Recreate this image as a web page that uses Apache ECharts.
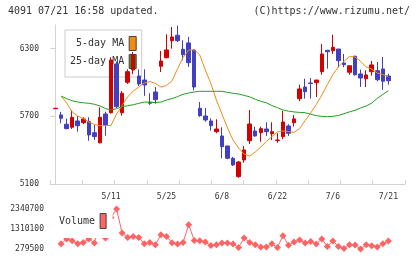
<!DOCTYPE html>
<html>
<head>
<meta charset="utf-8" />
<title>4091</title>
<script src="https://cdn.jsdelivr.net/npm/echarts@6/dist/echarts.min.js"></script>
<style>
  html, body { margin: 0; padding: 0; background: #fff; }
  #chart { width: 420px; height: 259px; }
</style>
</head>
<body>
<div id="chart"></div>
<script type="text/javascript">
    // trading days, one per candle
    var dates = ['4/21','4/22','4/23','4/24','4/27','4/28','4/30','5/1','5/7','5/8',
        '5/11','5/12','5/13','5/14','5/15','5/18','5/19','5/20','5/21','5/22',
        '5/25','5/26','5/27','5/28','5/29','6/1','6/2','6/3','6/4','6/5',
        '6/8','6/9','6/10','6/11','6/12','6/15','6/16','6/17','6/18','6/19',
        '6/22','6/23','6/24','6/25','6/26','6/29','6/30','7/1','7/2','7/3',
        '7/6','7/7','7/8','7/9','7/10','7/13','7/14','7/15','7/16','7/17',
        '7/21'];
    var opens = [5768,5712,5630,5603,5659,5644,5653,5555,5466,5721,
        5732,6164,5732,6002,6111,6058,6022,5825,5916,6144,
        6220,6371,6419,6295,6351,6288,5771,5703,5659,5564,
        5526,5437,5328,5165,5313,5484,5570,5555,5588,5546,
        5486,5520,5615,5644,5857,5960,5996,5999,6096,6286,
        6282,6297,6173,6091,6233,6076,6034,6096,6105,6120,
        6058];
    var closes = [5772,5683,5591,5692,5617,5677,5535,5520,5692,5623,
        6200,5786,5905,6096,6244,5987,5978,5816,5848,6191,
        6289,6404,6371,6247,6176,5960,5706,5668,5617,5588,
        5431,5328,5269,5295,5402,5632,5526,5591,5564,5564,
        5490,5650,5550,5677,5943,5919,5991,6022,6253,6273,
        6312,6194,6158,6149,6069,6040,6067,6156,6025,6011,
        6016];
    var lows = [5768,5638,5585,5588,5564,5632,5484,5490,5460,5528,
        5725,5774,5706,5987,6073,5969,5881,5801,5812,6093,
        6215,6300,6359,6197,6138,5931,5695,5653,5573,5550,
        5328,5320,5260,5156,5289,5455,5520,5475,5526,5490,
        5466,5497,5526,5608,5834,5857,5857,5872,6069,6123,
        6253,6135,6135,6069,6061,5960,5960,6061,6011,5936,
        5981];
    var highs = [5772,5739,5680,5756,5703,5692,5692,5623,5780,5741,
        6224,6185,5925,6117,6271,6116,6117,5905,5960,6280,
        6428,6492,6505,6375,6404,6288,5827,5774,5683,5674,
        5603,5440,5340,5304,5437,5756,5608,5608,5647,5647,
        5550,5748,5630,5712,5981,6034,6040,6022,6342,6286,
        6424,6297,6253,6149,6238,6114,6108,6191,6182,6226,
        6078];
    var ma5 = [null,5880,5818,5739,5703,5681,5650,5628,5617,5617,
        5620,5721,5796,5872,5925,5960,5996,6009,5991,5960,
        5974,6015,6123,6222,6288,6290,6244,6111,5991,5845,
        5721,5597,5490,5419,5366,5348,5384,5428,5477,5521,
        5561,5570,5565,5558,5592,5663,5730,5805,5889,5982,
        6071,6139,6188,6231,6226,6188,6138,6120,6084,6071,
        6053];
    var ma25 = [null,5879,5857,5838,5827,5820,5816,5807,5792,5769,
        5756,5768,5786,5794,5803,5815,5827,5825,5822,5827,
        5845,5858,5875,5896,5907,5916,5922,5922,5922,5922,
        5922,5913,5904,5898,5886,5873,5851,5834,5820,5796,
        5777,5756,5746,5739,5735,5732,5719,5706,5700,5697,
        5700,5708,5723,5740,5754,5774,5792,5817,5860,5894,
        5927];
    var volumes = [null,552000,795000,707000,552000,620000,795000,589000,1750000,846000,
        1900000,2340700,1104000,877000,929000,877000,552000,620000,501000,1016000,
        929000,604000,537000,620000,1532000,723000,707000,640000,465000,501000,
        589000,589000,537000,362000,846000,620000,501000,383000,383000,552000,
        362000,965000,475000,640000,743000,589000,671000,537000,795000,413000,
        692000,413000,310000,501000,486000,279500,501000,450000,383000,552000,
        692000];
    var priceTicks = [5100, 5700, 6300];
    var dateTicks = [10, 20, 30, 40, 50, 60];

    var UP = '#d40000', DOWN = '#4040c0';
    var MONO = 'DejaVu Sans Mono';

    function pairs(arr) {
        var out = [];
        for (var i = 0; i < arr.length; i++) {
            if (arr[i] != null) out.push([i, arr[i]]);
        }
        return out;
    }

    var candles = [];
    for (var i = 0; i < dates.length; i++) {
        candles.push([i, opens[i], closes[i], lows[i], highs[i]]);
    }

    var myChart = echarts.init(document.getElementById('chart'), null, { renderer: 'canvas' });
    myChart.setOption({
        animation: false,
        backgroundColor: '#fff',
        title: [
            { text: '4091 07/21 16:58 updated.', left: 8, top: 6, padding: 0,
              textStyle: { fontFamily: MONO, fontSize: 10, fontWeight: 'normal', color: '#333' } },
            { text: '(C)https://www.rizumu.net/', right: 10, top: 6, padding: 0,
              textStyle: { fontFamily: MONO, fontSize: 10, fontWeight: 'normal', color: '#333' } }
        ],
        legend: [
            {
                orient: 'vertical', align: 'right', left: 65, top: 30,
                padding: [6, 5, 8, 5], itemGap: 3, itemWidth: 7, itemHeight: 14,
                backgroundColor: '#fff', borderColor: '#ccc', borderWidth: 1,
                z: 1, selectedMode: false,
                textStyle: { fontFamily: MONO, fontSize: 10, color: '#333' },
                data: [
                    { name: '5-day MA', icon: 'rect', itemStyle: { color: '#f08c14', borderColor: '#444', borderWidth: 1 } },
                    { name: '25-day MA', icon: 'rect', itemStyle: { color: '#20a020', borderColor: '#444', borderWidth: 1 } }
                ]
            },
            {
                orient: 'horizontal', align: 'right', left: 53, top: 204,
                padding: [9, 6, 9, 6], itemWidth: 6, itemHeight: 15,
                backgroundColor: '#fff', borderWidth: 0,
                selectedMode: false,
                textStyle: { fontFamily: MONO, fontSize: 10, color: '#333' },
                data: [
                    { name: 'Volume', icon: 'rect', itemStyle: { color: '#ff6464', borderColor: '#444', borderWidth: 1 } }
                ]
            }
        ],
        grid: [
            { left: 50, top: 25, width: 355, height: 159, outerBoundsMode: 'none' },
            { left: 50, top: 209, width: 355, height: 40, outerBoundsMode: 'none' }
        ],
        xAxis: [
            {
                gridIndex: 0, type: 'value', min: -1, max: 63,
                axisLine: { show: true, lineStyle: { color: '#d3d3d3' } },
                axisTick: { show: false },
                splitLine: { show: false },
                axisLabel: {
                    customValues: dateTicks, margin: 9,
                    fontFamily: MONO, fontSize: 8, color: '#333',
                    formatter: function (v) { return dates[v]; }
                }
            },
            {
                gridIndex: 0, type: 'value', min: 0, max: 11, interval: 1, position: 'bottom',
                axisLine: { show: false },
                axisTick: { show: true, inside: true, length: 4, lineStyle: { color: '#d3d3d3' } },
                axisLabel: { show: false },
                splitLine: { show: false }
            },
            {
                gridIndex: 1, type: 'value', min: -1, max: 63, show: false
            }
        ],
        yAxis: [
            {
                gridIndex: 0, type: 'value', min: 5100, max: 6510,
                axisLine: { show: true, lineStyle: { color: '#d3d3d3' } },
                axisTick: { show: true, customValues: priceTicks, length: 5, lineStyle: { color: '#d3d3d3' } },
                splitLine: { show: false },
                axisLabel: {
                    customValues: priceTicks, margin: 11,
                    fontFamily: MONO, fontSize: 8, color: '#333',
                    formatter: function (v) { return String(v); }
                }
            },
            {
                gridIndex: 1, type: 'value', min: 279500, max: 2340700, interval: 1030600,
                axisLine: { show: false },
                axisTick: { show: false },
                splitLine: { show: false },
                axisLabel: {
                    margin: 6, fontFamily: MONO, fontSize: 8, color: '#333',
                    formatter: function (v) { return String(v); }
                }
            }
        ],
        series: [
            {
                name: 'Price', type: 'candlestick', xAxisIndex: 0, yAxisIndex: 0,
                barWidth: 4,
                itemStyle: { color: UP, color0: DOWN, borderColor: UP, borderColor0: DOWN, borderWidth: 1 },
                data: candles
            },
            {
                name: '5-day MA', type: 'line', xAxisIndex: 0, yAxisIndex: 0,
                symbol: 'none', lineStyle: { width: 1, color: '#f08c14' }, itemStyle: { color: '#f08c14' },
                data: pairs(ma5)
            },
            {
                name: '25-day MA', type: 'line', xAxisIndex: 0, yAxisIndex: 0,
                symbol: 'none', lineStyle: { width: 1, color: '#20a020' }, itemStyle: { color: '#20a020' },
                data: pairs(ma25)
            },
            {
                name: 'Volume', type: 'line', xAxisIndex: 2, yAxisIndex: 1,
                symbol: 'diamond', symbolSize: 7, clip: false,
                lineStyle: { width: 1, color: '#ff6464' }, itemStyle: { color: '#ff6464' },
                data: pairs(volumes)
            }
        ]
    });
</script>
</body>
</html>
